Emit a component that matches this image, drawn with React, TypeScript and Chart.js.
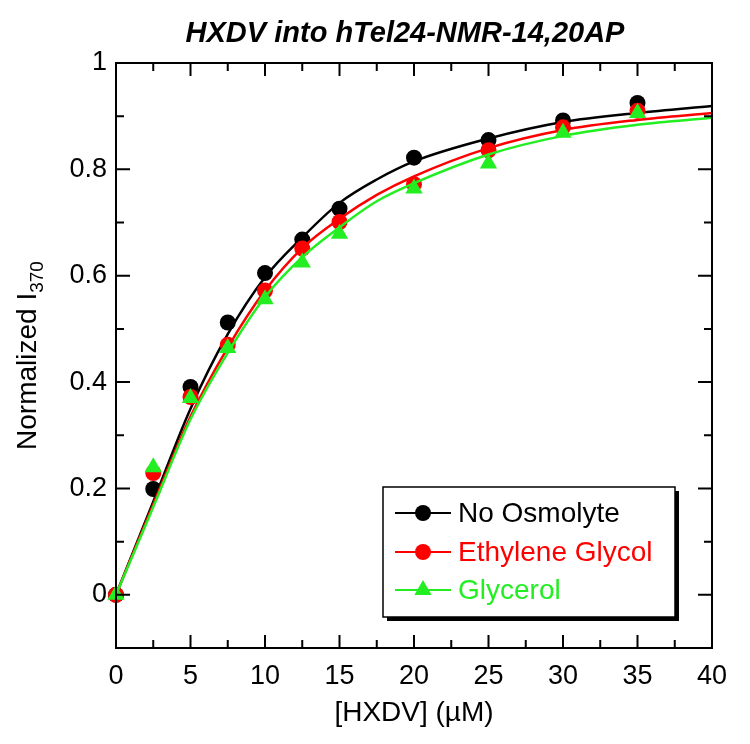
import React, { useEffect, useRef } from 'react';
import { Chart, registerables } from 'chart.js';

Chart.register(...registerables);

const FONT = '"Liberation Sans", Arial, Helvetica, sans-serif';

const chartTitle = 'HXDV into hTel24-NMR-14,20AP';
const xAxisTitle = '[HXDV] (µM)';
const yAxisTitleMain = 'Normalized I';
const yAxisTitleSub = '370';

const seriesNames = ['No Osmolyte', 'Ethylene Glycol', 'Glycerol'];
const seriesColors = ['#000000', '#ff0000', '#22ee22'];
const seriesShapes = ['circle', 'circle', 'triangle'];

// measured points
const concentrations = [0, 2.5, 5, 7.5, 10, 12.5, 15, 20, 25, 30, 35];
const noOsmolyte = [0, 0.199, 0.391, 0.512, 0.605, 0.668, 0.726, 0.822, 0.855, 0.892, 0.925];
const ethyleneGlycol = [0, 0.229, 0.372, 0.47, 0.572, 0.651, 0.701, 0.772, 0.836, 0.879, 0.91];
const glycerol = [0, 0.24, 0.37, 0.464, 0.556, 0.625, 0.679, 0.764, 0.811, 0.869, 0.906];

// fitted curves
const fitX = [0, 2.5, 5, 7.5, 10, 12.5, 15, 17.5, 20, 25, 30, 35, 40];
const fitNoOsmolyte = [0, 0.175, 0.35, 0.49, 0.597, 0.672, 0.737, 0.781, 0.815, 0.858, 0.889, 0.906, 0.919];
const fitEthyleneGlycol = [0, 0.17, 0.335, 0.465, 0.572, 0.652, 0.707, 0.752, 0.787, 0.84, 0.874, 0.893, 0.906];
const fitGlycerol = [0, 0.165, 0.33, 0.455, 0.56, 0.635, 0.691, 0.74, 0.774, 0.828, 0.863, 0.884, 0.897];

const xMajorTicks = [0, 5, 10, 15, 20, 25, 30, 35, 40];
const xMinorTicks = [2.5, 7.5, 12.5, 17.5, 22.5, 27.5, 32.5, 37.5];
const yMajorTicks = [0, 0.2, 0.4, 0.6, 0.8, 1];
const yMinorTicks = [0.1, 0.3, 0.5, 0.7, 0.9];
const yTickLabels = ['0', '0.2', '0.4', '0.6', '0.8', '1'];

const pointSeries = [noOsmolyte, ethyleneGlycol, glycerol];
const fitSeries = [fitNoOsmolyte, fitEthyleneGlycol, fitGlycerol];

function drawMarker(ctx: CanvasRenderingContext2D, shape: string, x: number, y: number, color: string) {
  ctx.save();
  ctx.fillStyle = color;
  ctx.beginPath();
  if (shape === 'triangle') {
    const r = 10;
    const s = Math.sin((2 * Math.PI) / 3) * r;
    ctx.moveTo(x, y - r);
    ctx.lineTo(x + s, y + r / 2);
    ctx.lineTo(x - s, y + r / 2);
    ctx.closePath();
  } else {
    ctx.arc(x, y, 8, 0, Math.PI * 2);
  }
  ctx.fill();
  ctx.restore();
}

const decorPlugin = {
  id: 'decor',
  afterDraw(chart: any) {
    const ctx: CanvasRenderingContext2D = chart.ctx;
    const { left, right, top, bottom } = chart.chartArea;
    const xs = chart.scales.x;
    const ys = chart.scales.y;
    ctx.save();
    // frame
    ctx.strokeStyle = '#000';
    ctx.lineWidth = 2;
    ctx.strokeRect(left, top, right - left, bottom - top);
    // ticks
    const tick = (v: number, len: number, horizontal: boolean) => {
      if (horizontal) {
        const px = xs.getPixelForValue(v);
        ctx.beginPath();
        ctx.moveTo(px, bottom);
        ctx.lineTo(px, bottom - len);
        ctx.moveTo(px, top);
        ctx.lineTo(px, top + len);
        ctx.stroke();
      } else {
        const py = ys.getPixelForValue(v);
        ctx.beginPath();
        ctx.moveTo(left, py);
        ctx.lineTo(left + len, py);
        ctx.moveTo(right, py);
        ctx.lineTo(right - len, py);
        ctx.stroke();
      }
    };
    xMajorTicks.forEach((v) => tick(v, 13, true));
    xMinorTicks.forEach((v) => tick(v, 8, true));
    yMajorTicks.forEach((v) => tick(v, 14, false));
    yMinorTicks.forEach((v) => tick(v, 8, false));

    // title
    ctx.fillStyle = '#000';
    ctx.font = `italic bold 29px ${FONT}`;
    ctx.textAlign = 'center';
    ctx.textBaseline = 'alphabetic';
    ctx.fillText(chartTitle, 405, 42, 452);

    // x axis title
    ctx.font = `28px ${FONT}`;
    ctx.fillText(xAxisTitle, (left + right) / 2, 721);

    // y axis title with subscript
    ctx.save();
    ctx.translate(26, (top + bottom) / 2);
    ctx.rotate(-Math.PI / 2);
    ctx.font = `28px ${FONT}`;
    const wMain = ctx.measureText(yAxisTitleMain).width;
    ctx.font = `19px ${FONT}`;
    const wSub = ctx.measureText(yAxisTitleSub).width;
    const start = -(wMain + wSub) / 2;
    ctx.textAlign = 'left';
    ctx.font = `28px ${FONT}`;
    ctx.fillText(yAxisTitleMain, start, 10);
    ctx.font = `19px ${FONT}`;
    ctx.fillText(yAxisTitleSub, start + wMain, 17);
    ctx.restore();

    // legend
    const lx = 383, ly = 487, lw = 292, lh = 130;
    ctx.fillStyle = '#000';
    ctx.fillRect(lx + 4, ly + 4, lw, lh);
    ctx.fillStyle = '#fff';
    ctx.fillRect(lx, ly, lw, lh);
    ctx.lineWidth = 1.5;
    ctx.strokeStyle = '#000';
    ctx.strokeRect(lx, ly, lw, lh);
    const rows = [513, 552, 590];
    seriesNames.forEach((name, i) => {
      const cy = rows[i];
      ctx.strokeStyle = seriesColors[i];
      ctx.lineWidth = 2;
      ctx.beginPath();
      ctx.moveTo(395, cy);
      ctx.lineTo(451, cy);
      ctx.stroke();
      drawMarker(ctx, seriesShapes[i], 423, cy, seriesColors[i]);
      ctx.fillStyle = seriesColors[i];
      ctx.font = `28px ${FONT}`;
      ctx.textAlign = 'left';
      ctx.textBaseline = 'middle';
      ctx.fillText(name, 458, cy + 1);
    });
    ctx.restore();
  },
};

export default function App() {
  const canvasRef = useRef<HTMLCanvasElement | null>(null);

  useEffect(() => {
    const canvas = canvasRef.current;
    if (!canvas) return;

    const pointDatasets = pointSeries.map((vals, i) => ({
      label: seriesNames[i],
      data: concentrations.map((x, j) => ({ x, y: vals[j] })),
      showLine: false,
      pointStyle: seriesShapes[i],
      pointRadius: seriesShapes[i] === 'triangle' ? 10 : 8,
      pointBackgroundColor: seriesColors[i],
      pointBorderColor: seriesColors[i],
      pointBorderWidth: 0,
      clip: false as any,
      order: 5 - 2 * i,
    }));
    const fitDatasets = fitSeries.map((vals, i) => ({
      label: seriesNames[i] + ' fit',
      data: fitX.map((x, j) => ({ x, y: vals[j] })),
      showLine: true,
      borderColor: seriesColors[i],
      borderWidth: 2.5,
      pointRadius: 0,
      cubicInterpolationMode: 'monotone' as const,
      order: 6 - 2 * i,
    }));

    const chart = new Chart(canvas, {
      type: 'scatter',
      data: { datasets: [...pointDatasets, ...fitDatasets] as any },
      options: {
        responsive: false,
        animation: false,
        layout: { padding: { top: 63, right: 38, left: 0, bottom: 0 } },
        plugins: {
          legend: { display: false },
          tooltip: { enabled: false },
          title: { display: false },
        },
        scales: {
          x: {
            type: 'linear',
            min: 0,
            max: 40,
            grid: { display: false, drawTicks: false },
            border: { display: false },
            ticks: {
              autoSkip: false,
              maxRotation: 0,
              padding: 12,
              color: '#000',
              font: { family: FONT, size: 27 },
            },
            afterBuildTicks: (s: any) => {
              s.ticks = xMajorTicks.map((v) => ({ value: v }));
            },
            afterFit: (s: any) => {
              s.height = 96;
            },
          },
          y: {
            type: 'linear',
            min: -0.1,
            max: 1,
            grid: { display: false, drawTicks: false },
            border: { display: false },
            ticks: {
              autoSkip: false,
              padding: 9,
              color: '#000',
              font: { family: FONT, size: 27 },
              callback: (v: any) => {
                const idx = yMajorTicks.findIndex((t) => Math.abs(t - Number(v)) < 1e-9);
                return idx >= 0 ? yTickLabels[idx] : '';
              },
            },
            afterBuildTicks: (s: any) => {
              s.ticks = yMajorTicks.map((v) => ({ value: v }));
            },
            afterFit: (s: any) => {
              s.width = 116;
            },
          },
        },
      },
      plugins: [decorPlugin],
    });

    return () => chart.destroy();
  }, []);

  return (
    <div style={{ position: 'absolute', left: 0, top: 0, width: 750, height: 744, background: '#fff' }}>
      <canvas ref={canvasRef} width={750} height={744} style={{ display: 'block', width: 750, height: 744 }} />
    </div>
  );
}
